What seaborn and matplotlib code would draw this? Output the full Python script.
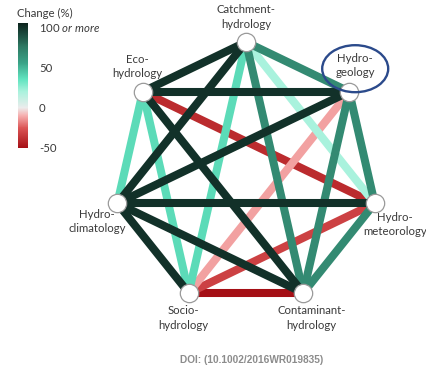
import numpy as np
import pandas as pd
import matplotlib
matplotlib.use("Agg")
import matplotlib.pyplot as plt
import seaborn as sns
from matplotlib.colors import LinearSegmentedColormap, Normalize
from matplotlib.cm import ScalarMappable
from matplotlib.patches import Ellipse

# ---- data -------------------------------------------------------------
nodes = ["catchment", "geology", "meteorology", "contaminant",
         "socio", "climatology", "eco"]
node_labels = ["Catchment-\nhydrology", "Hydro-\ngeology", "Hydro-\nmeteorology",
               "Contaminant-\nhydrology", "Socio-\nhydrology",
               "Hydro-\nclimatology", "Eco-\nhydrology"]

edge_src = ["catchment", "catchment", "catchment", "catchment", "catchment", "catchment",
            "eco", "eco", "eco", "eco", "eco",
            "geology", "geology", "geology", "geology",
            "climatology", "climatology", "climatology",
            "socio", "socio", "contaminant"]
edge_dst = ["eco", "geology", "climatology", "socio", "contaminant", "meteorology",
            "geology", "climatology", "socio", "contaminant", "meteorology",
            "climatology", "socio", "contaminant", "meteorology",
            "meteorology", "socio", "contaminant",
            "contaminant", "meteorology", "meteorology"]
change_pct = [100, 68, 100, 38, 68, 20,
              100, 38, 38, 100, -40,
              100, -12, 68, 68,
              100, 100, 100,
              -50, -32, 68]

cbar_ticks = [-50, 0, 50, 100]
cbar_labels = ["-50", "0", "50", "100 $\\it{or\\ more}$"]

# ---- style ------------------------------------------------------------
sns.set_theme(style="white")
plt.rcParams["font.family"] = ["Lato", "DejaVu Sans"]
plt.rcParams["mathtext.fontset"] = "custom"
plt.rcParams["mathtext.it"] = "Lato:italic"
plt.rcParams["mathtext.rm"] = "Lato"
text_color = "#3a3a3a"
label_size = 8.2

change_cmap = LinearSegmentedColormap.from_list(
    "change",
    [(0.00, "#a50f15"), (0.16, "#dc5656"), (0.26, "#f6b0b0"), (0.32, "#ececec"),
     (0.45, "#aaf2dd"), (0.55, "#62e4c0"), (0.68, "#3aa488"), (0.81, "#2e7a64"),
     (1.00, "#0c231d")])
norm = Normalize(vmin=-50, vmax=105)

# ---- layout: nodes on a heptagon (pixel space, y downward) -----------
cx, cy, r = 246, 174, 132
ang = np.deg2rad(-90 + 360 / 7 * np.arange(len(nodes)))
pos = {n: (cx + r * np.cos(a), cy + r * np.sin(a)) for n, a in zip(nodes, ang)}
label_offset = {"catchment": (0, -25), "geology": (6, -26), "meteorology": (20, 21),
                "contaminant": (8, 25), "socio": (-5, 25), "climatology": (-20, 18),
                "eco": (-5, -25)}

rows = []
for k, (a, b, v) in enumerate(zip(edge_src, edge_dst, change_pct)):
    for n in (a, b):
        rows.append({"edge": k, "x": pos[n][0], "y": pos[n][1], "change": v})
edges = pd.DataFrame(rows)
node_df = pd.DataFrame({"node": nodes,
                        "x": [pos[n][0] for n in nodes],
                        "y": [pos[n][1] for n in nodes]})

# ---- figure -----------------------------------------------------------
fig = plt.figure(figsize=(4.27, 3.69), dpi=100)
ax = fig.add_axes([0, 0, 1, 1])
ax.set_xlim(0, 427)
ax.set_ylim(369, 0)
ax.axis("off")

sns.lineplot(data=edges, x="x", y="y", units="edge", estimator=None, sort=False,
             hue="change", palette=change_cmap, hue_norm=norm, legend=False,
             lw=5.8, solid_capstyle="butt", ax=ax)
sns.scatterplot(data=node_df, x="x", y="y", s=175, color="white",
                edgecolor="#9a9a9a", linewidth=0.9, zorder=5, legend=False, ax=ax)

for n, lab in zip(nodes, node_labels):
    dx, dy = label_offset[n]
    ax.text(pos[n][0] + dx, pos[n][1] + dy, lab, ha="center", va="center",
            fontsize=label_size, color=text_color, linespacing=1.35, zorder=6)

gx, gy = pos["geology"]
ax.add_patch(Ellipse((gx + 6, gy - 23), 66, 47, fill=False,
                     edgecolor="#2b4a8b", lw=1.7, zorder=7))

ax.text(252, 360, "DOI: (10.1002/2016WR019835)", ha="center", va="center",
        fontsize=7.3, color="#8c8c8c", fontweight="bold",
        family=["Liberation Sans", "DejaVu Sans"])

# ---- colour bar -------------------------------------------------------
cax = fig.add_axes([18 / 427, 1 - 148 / 369, 10 / 427, 125 / 369])
cb = fig.colorbar(ScalarMappable(norm=norm, cmap=change_cmap), cax=cax)
cb.outline.set_visible(False)
cb.set_ticks(cbar_ticks)
cb.set_ticklabels(cbar_labels)
cax.tick_params(length=0, pad=8, labelsize=label_size, labelcolor=text_color)
fig.text(17 / 427, 1 - 13 / 369, "Change (%)", ha="left", va="center",
         fontsize=label_size, color=text_color)

fig.savefig("out.png", dpi=100)
